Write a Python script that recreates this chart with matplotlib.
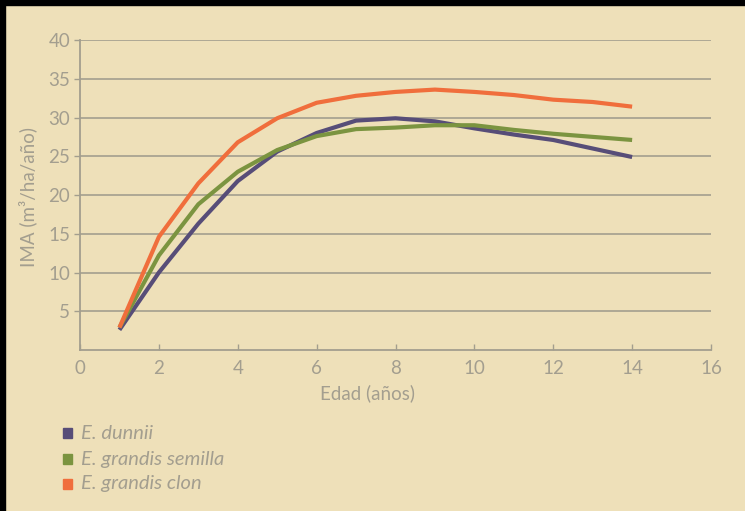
import matplotlib
matplotlib.use("Agg")
import matplotlib.pyplot as plt
from matplotlib.patches import Rectangle

# Edad (años) and IMA (m³/ha/año) per material
edad = [1, 2, 3, 4, 5, 6, 7, 8, 9, 10, 11, 12, 13, 14]
dunnii = [2.6, 10.0, 16.3, 21.8, 25.6, 28.0, 29.6, 29.9, 29.5, 28.6, 27.8, 27.1, 26.0, 24.9]
grandis_semilla = [2.9, 12.2, 18.8, 23.0, 25.8, 27.6, 28.5, 28.7, 29.0, 29.0, 28.4, 27.9, 27.5, 27.1]
grandis_clon = [2.9, 14.6, 21.5, 26.8, 29.9, 31.9, 32.8, 33.3, 33.6, 33.3, 32.9, 32.3, 32.0, 31.4]

series_labels = ["E. dunnii", "E. grandis semilla", "E. grandis clon"]
x_ticks = [0, 2, 4, 6, 8, 10, 12, 14, 16]
y_ticks = [5, 10, 15, 20, 25, 30, 35, 40]

bg = "#eee0b9"
text_col = "#a39e8f"
grid_col = "#a39e8e"
colors = ["#574d78", "#7b9440", "#f06e3c"]

plt.rcParams["font.family"] = ["Lato", "DejaVu Sans"]

W, H = 745, 511
fig = plt.figure(figsize=(W / 100, H / 100), dpi=100, facecolor=bg)
ax = fig.add_axes([80 / W, 1 - 350 / H, (711 - 80) / W, (350 - 40) / H])
ax.set_facecolor(bg)

for yv in y_ticks:
    ax.axhline(yv, color=grid_col, lw=1.2, zorder=1)

series = [dunnii, grandis_semilla, grandis_clon]
for vals, c in zip(series, colors):
    ax.plot(edad, vals, color=c, lw=3.0, solid_capstyle="butt",
            solid_joinstyle="round", zorder=3)

ax.set_xlim(0, 16)
ax.set_ylim(0, 40)
ax.set_xticks(x_ticks)
ax.set_yticks(y_ticks)
ax.tick_params(axis="x", direction="in", length=4, width=1, color=grid_col,
               labelcolor=text_col, labelsize=13.5, pad=7)
ax.tick_params(axis="y", direction="out", length=4, width=1, color=grid_col,
               labelcolor=text_col, labelsize=13.5, pad=3)
for side in ["top", "right"]:
    ax.spines[side].set_visible(False)
for side in ["left", "bottom"]:
    ax.spines[side].set_color(grid_col)
    ax.spines[side].set_linewidth(1.3)

fig.text(28 / W, 1 - 197 / H, "IMA (m³/ha/año)", rotation=90, ha="center",
         va="center", color=text_col, fontsize=13.5)
fig.text(368 / W, 1 - 393 / H, "Edad (años)", ha="center", va="center",
         color=text_col, fontsize=13.5)

# legend: colour squares with italic names
leg_y = [433, 459, 484]
for name, c, yp in zip(series_labels, colors, leg_y):
    fig.patches.append(Rectangle((63 / W, 1 - (yp + 5) / H), 9 / W, 10 / H,
                                 transform=fig.transFigure, color=c))
    fig.text(81 / W, 1 - yp / H, name, ha="left", va="center",
             color=text_col, fontsize=14.5, style="italic")

# dark frame along top and left edges
fig.patches.append(Rectangle((0, 1 - 5 / H), 1, 5 / H,
                             transform=fig.transFigure, color="black"))
fig.patches.append(Rectangle((0, 0), 5 / W, 1,
                             transform=fig.transFigure, color="black"))

fig.savefig("out.png", dpi=100, facecolor=bg)
